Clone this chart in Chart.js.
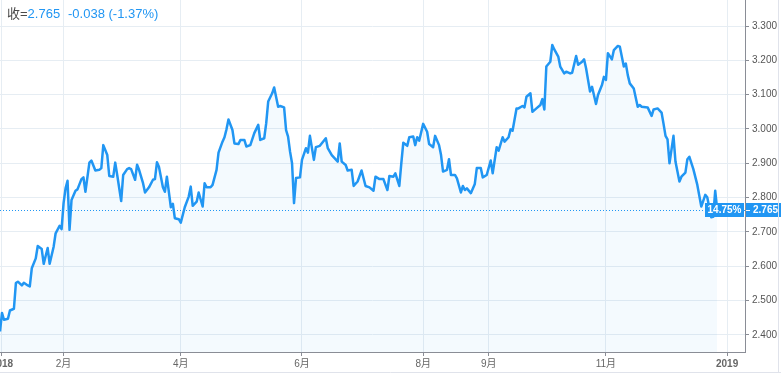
<!DOCTYPE html>
<html>
<head>
<meta charset="utf-8">
<script src="https://cdn.jsdelivr.net/npm/chart.js@4"></script>
<style>
  html, body { margin: 0; padding: 0; background: #fff; }
  #wrap { width: 781px; height: 373px; position: relative; }
</style>
</head>
<body>
<div id="wrap"><canvas id="chart" width="781" height="373"></canvas></div>
<script>
// day number (0 = 2017-12-31) and close yield
const days = [
  0, 1, 2, 4, 5, 7, 8, 9, 11, 12, 14, 15, 16, 18, 19, 21, 22, 24, 25, 27,
  28, 30, 31, 32, 33, 34, 35, 36, 38, 39, 41, 42, 43, 45, 46, 48, 50, 51, 52, 54,
  55, 57, 58, 59, 61, 62, 64, 65, 66, 68, 69, 70, 72, 73, 75, 77, 78, 79, 80, 82,
  83, 84, 86, 87, 88, 90, 91, 93, 95, 96, 97, 99, 100, 102, 103, 104, 106, 107, 109, 110,
  112, 113, 114, 115, 117, 118, 120, 121, 123, 124, 126, 128, 130, 131, 133, 134, 135, 137, 138, 140,
  141, 143, 144, 145, 146, 147, 148, 149, 151, 152, 154, 155, 156, 158, 159, 161, 164, 165, 167, 170,
  171, 172, 174, 175, 177, 178, 180, 182, 184, 186, 188, 189, 191, 193, 195, 196, 198, 199, 201, 202,
  203, 205, 206, 208, 209, 210, 211, 213, 215, 216, 218, 219, 221, 222, 223, 225, 226, 227, 229, 230,
  232, 233, 234, 235, 237, 239, 240, 242, 243, 245, 247, 248, 250, 251, 253, 254, 256, 257, 258, 260,
  261, 263, 264, 265, 267, 268, 270, 272, 273, 274, 275, 277, 278, 279, 281, 282, 284, 285, 287, 288,
  290, 291, 293, 294, 295, 297, 298, 300, 301, 303, 304, 305, 306, 308, 309, 311, 312, 314, 315, 316,
  317, 319, 321, 322, 323, 326, 328, 329, 331, 333, 334, 335, 336, 337, 339, 340, 342, 343, 345, 346,
  347, 349, 351, 353, 355, 356, 358, 359, 360, 361
];
const yields = [
  2.410, 2.464, 2.444, 2.447, 2.471, 2.476, 2.551, 2.555, 2.544, 2.552, 2.544, 2.541, 2.594, 2.623, 2.659, 2.650, 2.607, 2.653, 2.607, 2.657,
  2.696, 2.718, 2.708, 2.784, 2.827, 2.849, 2.706, 2.793, 2.820, 2.824, 2.854, 2.859, 2.817, 2.902, 2.908, 2.879, 2.881, 2.886, 2.953, 2.924,
  2.863, 2.861, 2.902, 2.866, 2.790, 2.866, 2.883, 2.886, 2.883, 2.852, 2.896, 2.881, 2.842, 2.815, 2.830, 2.852, 2.854, 2.903, 2.890, 2.830,
  2.817, 2.861, 2.772, 2.782, 2.740, 2.737, 2.727, 2.772, 2.803, 2.832, 2.776, 2.788, 2.815, 2.774, 2.842, 2.830, 2.830, 2.837, 2.881, 2.931,
  2.963, 2.976, 2.999, 3.028, 2.997, 2.958, 2.956, 2.968, 2.968, 2.949, 2.953, 2.988, 3.012, 2.968, 2.973, 3.017, 3.080, 3.104, 3.121, 3.065,
  3.067, 3.063, 2.997, 2.978, 2.934, 2.900, 2.784, 2.857, 2.859, 2.910, 2.944, 2.931, 2.980, 2.910, 2.947, 2.951, 2.973, 2.944, 2.924, 2.905,
  2.958, 2.905, 2.895, 2.879, 2.881, 2.834, 2.847, 2.879, 2.834, 2.830, 2.820, 2.861, 2.854, 2.854, 2.822, 2.863, 2.861, 2.871, 2.834, 2.900,
  2.960, 2.951, 2.976, 2.978, 2.953, 2.976, 2.966, 3.015, 2.992, 2.956, 2.947, 2.980, 2.953, 2.924, 2.876, 2.881, 2.912, 2.866, 2.866, 2.856,
  2.815, 2.834, 2.822, 2.827, 2.813, 2.840, 2.886, 2.886, 2.859, 2.866, 2.908, 2.871, 2.947, 2.937, 2.976, 2.963, 2.976, 2.999, 2.995, 3.060,
  3.060, 3.067, 3.063, 3.094, 3.104, 3.050, 3.060, 3.070, 3.087, 3.057, 3.182, 3.196, 3.245, 3.232, 3.211, 3.182, 3.162, 3.167, 3.162, 3.164,
  3.213, 3.187, 3.196, 3.203, 3.177, 3.109, 3.123, 3.073, 3.099, 3.128, 3.152, 3.143, 3.221, 3.203, 3.230, 3.242, 3.240, 3.182, 3.191, 3.157,
  3.133, 3.118, 3.065, 3.070, 3.065, 3.063, 3.038, 3.057, 3.060, 3.048, 3.015, 2.980, 2.970, 2.900, 2.980, 2.905, 2.847, 2.861, 2.873, 2.912,
  2.919, 2.883, 2.837, 2.774, 2.808, 2.801, 2.743, 2.744, 2.820, 2.765
];

const tickDays = [1, 32, 91, 152, 213, 246, 305, 366];
const tickLabels = ['2018', '2月', '4月', '6月', '8月', '9月', '11月', '2019'];
const yTicks = [2.4, 2.5, 2.6, 2.7, 2.8, 2.9, 3.0, 3.1, 3.2, 3.3];

const lastValue = 2.765;
const change = '-0.038';
const changePct = '(-1.37%)';
const pctLabel = '14.75%';

const BLUE = '#2196f3';
const GRID = '#e6edf3';
const AXIS = '#8a8d96';
const FONT = "'Liberation Sans', 'Noto Sans CJK SC', sans-serif";

Chart.defaults.font.family = FONT;

const overlay = {
  id: 'overlay',
  afterDatasetsDraw(chart) {
    const { ctx, chartArea, scales } = chart;
    const y = Math.round(scales.y.getPixelForValue(lastValue)) + 0.5;
    ctx.save();
    // dotted last-price line
    ctx.strokeStyle = BLUE;
    ctx.lineWidth = 1;
    ctx.setLineDash([1, 2]);
    ctx.beginPath();
    ctx.moveTo(chartArea.left, y);
    ctx.lineTo(chartArea.right, y);
    ctx.stroke();
    ctx.setLineDash([]);

    // percent tag inside plot
    ctx.fillStyle = BLUE;
    ctx.fillRect(chartArea.right - 40, y - 7.5, 39, 14);
    ctx.fillStyle = '#fff';
    ctx.font = 'bold 10px ' + FONT;
    ctx.textAlign = 'center';
    ctx.textBaseline = 'middle';
    ctx.fillText(pctLabel, chartArea.right - 20.5, y);

    // price tag on axis
    ctx.fillStyle = BLUE;
    ctx.fillRect(chartArea.right + 1, y - 7.5, chart.width - chartArea.right - 1, 14);
    ctx.fillStyle = '#fff';
    ctx.fillRect(chartArea.right + 1, y - 0.5, 4, 1);
    ctx.font = 'bold 10px ' + FONT;
    ctx.textAlign = 'left';
    ctx.fillText(lastValue.toFixed(3), chartArea.right + 8, y);
    ctx.restore();
  },
  afterDraw(chart) {
    const { ctx } = chart;
    ctx.save();
    // outer frame
    ctx.strokeStyle = '#e0e3eb';
    ctx.lineWidth = 1;
    ctx.beginPath();
    ctx.moveTo(778.5, 0);
    ctx.lineTo(778.5, 372.5);
    ctx.moveTo(0, 372.5);
    ctx.lineTo(781, 372.5);
    ctx.stroke();

    // header
    ctx.font = '13px ' + FONT;
    ctx.textBaseline = 'middle';
    ctx.textAlign = 'left';
    let x = 7;
    ctx.fillStyle = '#4a4a4a';
    ctx.fillText('收=', x, 14);
    x += ctx.measureText('收=').width;
    ctx.fillStyle = BLUE;
    ctx.fillText(lastValue.toFixed(3), x, 14);
    ctx.fillText(change + ' ' + changePct, 68, 14);
    ctx.restore();
  }
};

new Chart(document.getElementById('chart'), {
  type: 'line',
  data: {
    datasets: [{
      data: days.map((d, i) => ({ x: d, y: yields[i] })),
      borderColor: BLUE,
      borderWidth: 2.5,
      backgroundColor: 'rgba(33, 150, 243, 0.05)',
      fill: 'start',
      pointRadius: 0,
      tension: 0,
      borderJoinStyle: 'round'
    }]
  },
  options: {
    responsive: false,
    animation: false,
    devicePixelRatio: 1,
    layout: { padding: 0 },
    plugins: {
      legend: { display: false },
      tooltip: { enabled: false }
    },
    scales: {
      x: {
        type: 'linear',
        min: 0,
        max: 375,
        afterBuildTicks: (s) => { s.ticks = tickDays.map(v => ({ value: v })); },
        afterFit: (s) => { s.height = 21; s.paddingLeft = 0; s.paddingRight = 0; },
        grid: { color: GRID, tickColor: AXIS, tickLength: 4 },
        border: { display: true, color: AXIS },
        ticks: {
          autoSkip: false,
          maxRotation: 0,
          padding: 2,
          color: '#666',
          font: (c) => ({ size: 10, weight: (c.index === 0 || c.index === tickDays.length - 1) ? 'bold' : 'normal' }),
          callback: (v, i) => tickLabels[i]
        }
      },
      y: {
        position: 'right',
        min: 2.35,
        max: 3.376,
        afterBuildTicks: (s) => { s.ticks = yTicks.map(v => ({ value: v })); },
        afterFit: (s) => { s.width = 36; s.paddingTop = 0; s.paddingBottom = 0; },
        grid: { color: GRID, tickColor: AXIS, tickLength: 4 },
        border: { display: true, color: AXIS },
        ticks: {
          padding: 3,
          color: '#555',
          font: { size: 10 },
          callback: (v) => Number(v).toFixed(3)
        }
      }
    }
  },
  plugins: [overlay]
});
</script>
</body>
</html>
